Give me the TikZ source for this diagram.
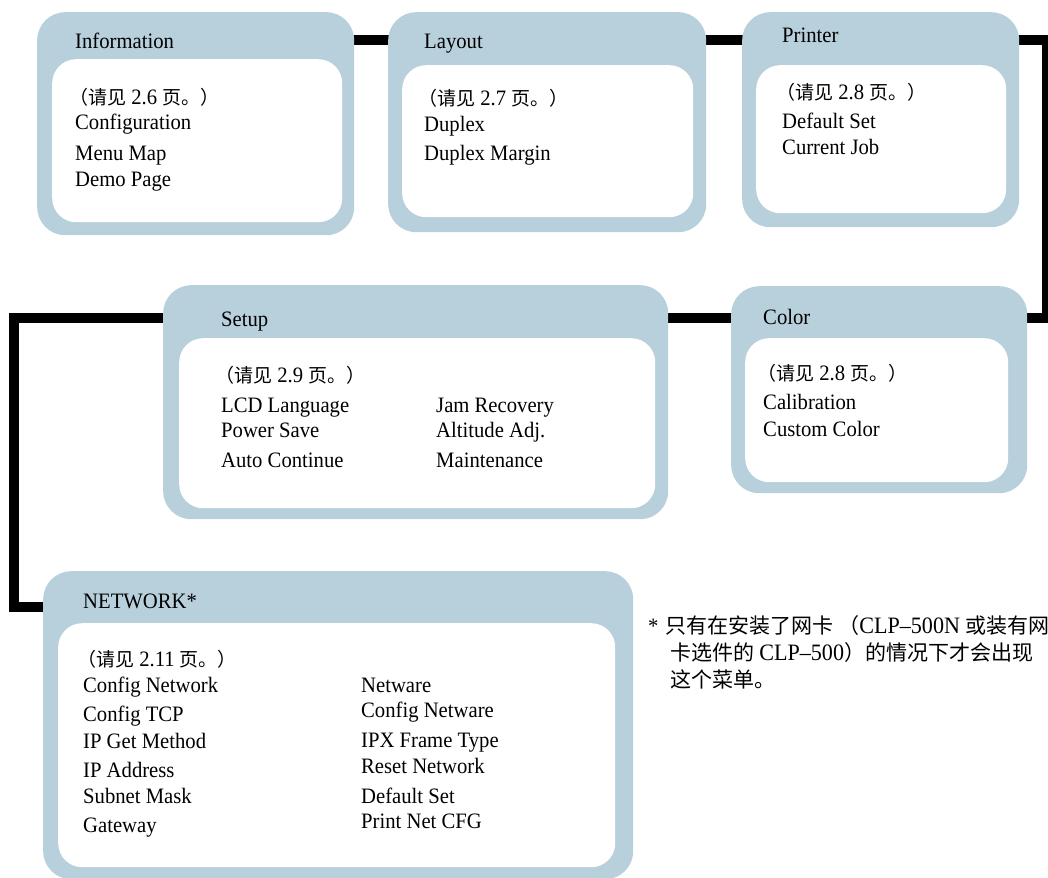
\documentclass[tikz,border=0pt]{standalone}
\usepackage{fontspec}
\setmainfont{Liberation Serif}[FakeStretch=0.94]
\newfontfamily\cjk{Noto Sans CJK SC}
\usetikzlibrary{backgrounds}
\definecolor{boxblue}{RGB}{184,208,220}
\tikzset{
  outerbox/.style={fill=boxblue, rounded corners=28pt, inner sep=0pt, anchor=north west},
  innerbox/.style={fill=white, rounded corners=24pt, inner sep=0pt, anchor=north west},
  lbl/.style={anchor=base west, inner sep=0pt, font=\fontsize{22}{24}\selectfont},
  conn/.style={line width=10pt, line join=miter, draw=black},
}
\newcommand\cn[1]{{\cjk\fontsize{19}{22}\selectfont #1}}
\newcommand\fn[1]{{\cjk\fontsize{21}{24}\selectfont #1}}
\newcommand\fl[1]{{\fontsize{23.5}{24}\selectfont #1}}
\newcommand\tx[4]{\node[lbl] (#1) at (#2,#3) {#4};}
\newcommand\seepage[1]{\kern-6pt\cn{（请见} #1 \cn{页。）}}
\begin{document}
\begin{tikzpicture}[x=1pt,y=-1pt]
\useasboundingbox (0,0) rectangle (1048,877);
\clip (0,0) rectangle (1048,877);

% boxes
\node[outerbox, minimum width=317pt, minimum height=223pt] (info) at (37,12) {};
\node[innerbox, minimum width=290pt, minimum height=163pt] (infoin) at (52,59) {};
\node[outerbox, minimum width=318pt, minimum height=220pt] (layout) at (388,12) {};
\node[innerbox, minimum width=291pt, minimum height=152pt] (layoutin) at (402,65) {};
\node[outerbox, minimum width=277pt, minimum height=215pt] (printer) at (742,12) {};
\node[innerbox, minimum width=250pt, minimum height=148pt] (printerin) at (756,65) {};
\node[outerbox, minimum width=505pt, minimum height=234pt] (setup) at (163,285) {};
\node[innerbox, minimum width=476pt, minimum height=170pt] (setupin) at (179,338) {};
\node[outerbox, minimum width=296pt, minimum height=207pt] (color) at (731,286) {};
\node[innerbox, minimum width=263pt, minimum height=144pt] (colorin) at (745,338) {};
\node[outerbox, minimum width=590pt, minimum height=308pt] (network) at (43,571) {};
\node[innerbox, minimum width=557pt, minimum height=244pt] (networkin) at (58,623) {};

% connector lanes
\coordinate (r1) at (1046.5,40);
\coordinate (r2) at (1046.5,318);
\coordinate (l1) at (13.5,318);
\coordinate (l2) at (13.5,607);

\begin{pgfonlayer}{background}
\draw[conn] (info.center |- r1) -- (layout.center |- r1);
\draw[conn] (layout.center |- r1) -- (printer.center |- r1);
\draw[conn] (printer.center |- r1) -- (r1) -- (r2) -- (color.center |- r2);
\draw[conn] (color.center |- r2) -- (setup.center |- r2);
\draw[conn] (setup.center |- l1) -- (l1) -- (l2) -- (network.center |- l2);
\end{pgfonlayer}

% Information
\tx{info1}{75}{49}{Information}
\tx{info2}{75}{105}{\seepage{2.6}}
\tx{info3}{75}{130}{Configuration}
\tx{info4}{75}{161}{Menu Map}
\tx{info5}{75}{187}{Demo Page}

% Layout
\tx{lay1}{424}{49}{Layout}
\tx{lay2}{424}{106}{\seepage{2.7}}
\tx{lay3}{424}{132}{Duplex}
\tx{lay4}{424}{161}{Duplex Margin}

% Printer
\tx{pr1}{782}{43}{Printer}
\tx{pr2}{782}{100}{\seepage{2.8}}
\tx{pr3}{782}{129}{Default Set}
\tx{pr4}{782}{155}{Current Job}

% Setup
\tx{su1}{221}{326}{Setup}
\tx{su2}{221}{382}{\seepage{2.9}}
\tx{su3}{221}{412}{LCD Language}
\tx{su4}{221}{437}{Power Save}
\tx{su5}{221}{467}{Auto Continue}
\tx{su6}{436}{412}{Jam Recovery}
\tx{su7}{436}{437}{Altitude Adj.}
\tx{su8}{436}{467}{Maintenance}

% Color
\tx{co1}{763}{324}{Color}
\tx{co2}{763}{380}{\seepage{2.8}}
\tx{co3}{763}{409}{Calibration}
\tx{co4}{763}{436}{Custom Color}

% Network
\tx{nw1}{83}{608}{NETWORK*}
\tx{nw2}{83}{666}{\seepage{2.11}}
\tx{nw3}{83}{692}{Config Network}
\tx{nw4}{83}{721}{Config TCP}
\tx{nw5}{83}{748}{IP Get Method}
\tx{nw6}{83}{777}{IP Address}
\tx{nw7}{83}{803}{Subnet Mask}
\tx{nw8}{83}{832}{Gateway}
\tx{nw9}{361}{692}{Netware}
\tx{nw10}{361}{717}{Config Netware}
\tx{nw11}{361}{747}{IPX Frame Type}
\tx{nw12}{361}{773}{Reset Network}
\tx{nw13}{361}{803}{Default Set}
\tx{nw14}{361}{828}{Print Net CFG}

% footnote
\tx{fn0}{648}{633}{*}
\tx{fn1}{665}{633}{\fn{只有在安装了网卡} \fn{（}\fl{CLP–500N} \fn{或装有网}}
\tx{fn2}{670}{660}{\fn{卡选件的} \fl{CLP–500}\fn{）的情况下才会出现}}
\tx{fn3}{670}{687}{\fn{这个菜单。}}
\end{tikzpicture}
\end{document}
